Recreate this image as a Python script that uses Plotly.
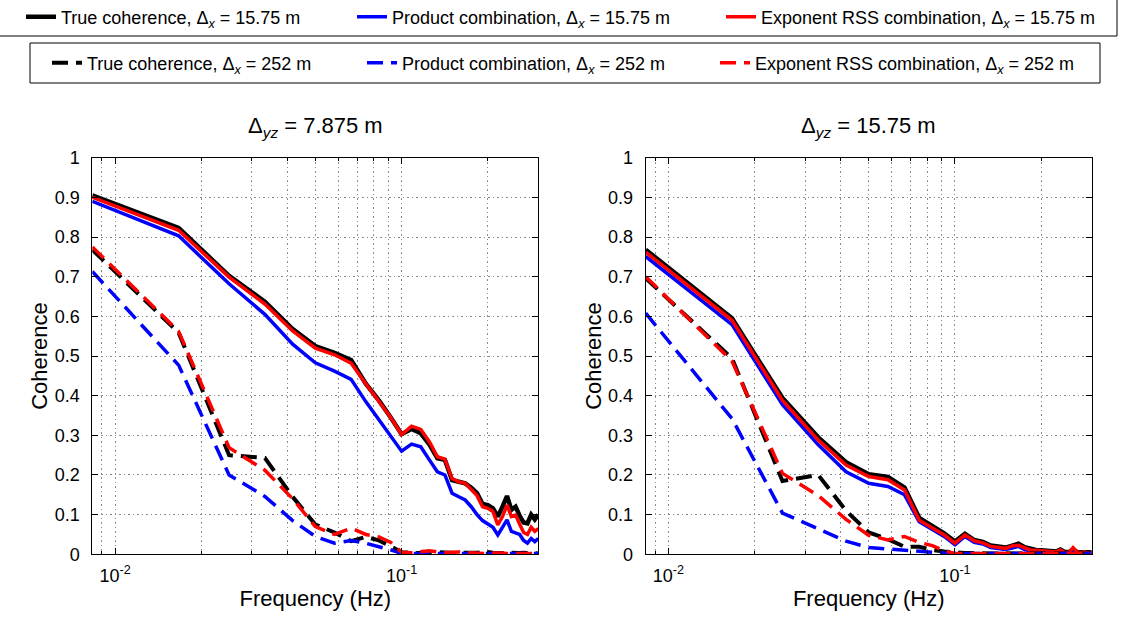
import math
import plotly.graph_objects as go

# ---------------- data ----------------
freq = [0.00833, 0.01667, 0.025, 0.03333, 0.04167, 0.05, 0.05833, 0.06667, 0.075,
        0.08333, 0.09167, 0.1, 0.10833, 0.11667, 0.125, 0.13333, 0.14167, 0.15,
        0.15833, 0.16667, 0.175, 0.18333, 0.19167, 0.2, 0.20833, 0.21667, 0.225,
        0.23333, 0.24167, 0.25, 0.25833, 0.26667, 0.275, 0.28333, 0.29167, 0.3]

# Panel A: Delta_yz = 7.875 m
true_short_A = [0.905, 0.823, 0.702, 0.637, 0.568, 0.525, 0.508, 0.490, 0.430, 0.388, 0.345, 0.303,
                0.316, 0.305, 0.277, 0.242, 0.238, 0.187, 0.183, 0.179, 0.168, 0.154, 0.127, 0.124,
                0.116, 0.095, 0.120, 0.147, 0.112, 0.120, 0.097, 0.080, 0.078, 0.100, 0.088, 0.100]
prod_short_A = [0.890, 0.803, 0.682, 0.605, 0.530, 0.483, 0.462, 0.441, 0.385, 0.340, 0.300, 0.260,
                0.278, 0.271, 0.238, 0.208, 0.200, 0.154, 0.145, 0.137, 0.120, 0.100, 0.085, 0.076,
                0.068, 0.049, 0.070, 0.087, 0.058, 0.055, 0.050, 0.035, 0.028, 0.040, 0.032, 0.040]
rss_short_A = [0.900, 0.817, 0.699, 0.631, 0.563, 0.520, 0.503, 0.482, 0.430, 0.385, 0.345, 0.302,
               0.323, 0.315, 0.284, 0.246, 0.240, 0.191, 0.183, 0.179, 0.162, 0.148, 0.120, 0.116,
               0.108, 0.074, 0.095, 0.124, 0.095, 0.099, 0.076, 0.055, 0.050, 0.068, 0.058, 0.065]
true_long_A = [0.768, 0.559, 0.250, 0.243, 0.145, 0.075, 0.055, 0.033, 0.044, 0.035, 0.020, 0.005,
               0.004, 0.003, 0.006, 0.005, 0.004, 0.003, 0.003, 0.004, 0.003, 0.004, 0.005, 0.006,
               0.004, 0.003, 0.004, 0.003, 0.004, 0.003, 0.003, 0.004, 0.003, 0.002, 0.003, 0.002]
prod_long_A = [0.713, 0.477, 0.200, 0.146, 0.085, 0.045, 0.028, 0.035, 0.028, 0.020, 0.011, 0.002,
               0.002, 0.003, 0.004, 0.003, 0.002, 0.003, 0.003, 0.002, 0.003, 0.002, 0.003, 0.003,
               0.002, 0.003, 0.002, 0.003, 0.002, 0.002, 0.003, 0.002, 0.002, 0.003, 0.002, 0.002]
rss_long_A = [0.775, 0.562, 0.269, 0.212, 0.140, 0.070, 0.050, 0.066, 0.050, 0.044, 0.030, 0.005,
              0.004, 0.006, 0.009, 0.006, 0.004, 0.005, 0.006, 0.004, 0.003, 0.004, 0.003, 0.002,
              0.003, 0.004, 0.003, 0.002, 0.003, 0.002, 0.002, 0.003, 0.002, 0.002, 0.002, 0.002]

# Panel B: Delta_yz = 15.75 m
true_short_B = [0.768, 0.595, 0.394, 0.295, 0.232, 0.202, 0.195, 0.168, 0.092, 0.072, 0.053, 0.032,
                0.052, 0.036, 0.031, 0.022, 0.020, 0.017, 0.022, 0.027, 0.018, 0.013, 0.011, 0.010,
                0.009, 0.008, 0.007, 0.012, 0.006, 0.006, 0.012, 0.006, 0.005, 0.006, 0.004, 0.005]
prod_short_B = [0.751, 0.579, 0.377, 0.276, 0.208, 0.179, 0.171, 0.150, 0.082, 0.063, 0.045, 0.024,
                0.045, 0.030, 0.026, 0.017, 0.015, 0.012, 0.016, 0.020, 0.012, 0.008, 0.007, 0.006,
                0.005, 0.005, 0.004, 0.006, 0.003, 0.003, 0.004, 0.003, 0.003, 0.003, 0.002, 0.003]
rss_short_B = [0.762, 0.590, 0.388, 0.288, 0.225, 0.196, 0.188, 0.162, 0.086, 0.067, 0.049, 0.028,
               0.049, 0.034, 0.029, 0.020, 0.018, 0.015, 0.021, 0.023, 0.016, 0.011, 0.010, 0.009,
               0.008, 0.007, 0.006, 0.011, 0.004, 0.005, 0.017, 0.006, 0.004, 0.006, 0.003, 0.004]
true_long_B = [0.696, 0.494, 0.185, 0.200, 0.110, 0.055, 0.038, 0.019, 0.019, 0.011, 0.007, 0.004,
               0.003, 0.003, 0.002, 0.003, 0.002, 0.003, 0.002, 0.002, 0.003, 0.002, 0.002, 0.002,
               0.003, 0.002, 0.002, 0.002, 0.002, 0.003, 0.002, 0.002, 0.002, 0.002, 0.002, 0.002]
prod_long_B = [0.608, 0.342, 0.104, 0.064, 0.033, 0.017, 0.013, 0.011, 0.008, 0.004, 0.003, 0.002,
               0.002, 0.002, 0.002, 0.002, 0.002, 0.002, 0.002, 0.002, 0.002, 0.002, 0.002, 0.002,
               0.002, 0.002, 0.002, 0.002, 0.002, 0.002, 0.002, 0.002, 0.002, 0.002, 0.002, 0.002]
rss_long_B = [0.700, 0.487, 0.204, 0.148, 0.088, 0.048, 0.036, 0.045, 0.030, 0.022, 0.009, 0.002,
              0.002, 0.002, 0.002, 0.002, 0.002, 0.002, 0.002, 0.002, 0.002, 0.002, 0.002, 0.002,
              0.002, 0.002, 0.002, 0.002, 0.002, 0.002, 0.002, 0.002, 0.002, 0.002, 0.002, 0.002]

panel_titles = ["Δ<sub><i>yz</i></sub> = 7.875 m", "Δ<sub><i>yz</i></sub> = 15.75 m"]
series_names = [
    "True coherence, Δ<sub><i>x</i></sub> = 15.75 m",
    "Product combination, Δ<sub><i>x</i></sub> = 15.75 m",
    "Exponent RSS combination, Δ<sub><i>x</i></sub> = 15.75 m",
    "True coherence, Δ<sub><i>x</i></sub> = 252 m",
    "Product combination, Δ<sub><i>x</i></sub> = 252 m",
    "Exponent RSS combination, Δ<sub><i>x</i></sub> = 252 m",
]
major_ticks = [0.01, 0.1]
major_text = ["10<sup>-2</sup>", "10<sup>-1</sup>"]
minor_ticks = [0.009, 0.02, 0.03, 0.04, 0.05, 0.06, 0.07, 0.08, 0.09, 0.2, 0.3]

# ---------------- figure ----------------
W, H = 1122, 617
FONT = "Liberation Sans, Arial, Helvetica, sans-serif"

DASH = "16px,8px"
styles = [
    dict(color="#000000", width=4.5, dash="solid"),
    dict(color="#0000ff", width=3.5, dash="solid"),
    dict(color="#ff0000", width=3.5, dash="solid"),
    dict(color="#000000", width=4.0, dash=DASH),
    dict(color="#0000ff", width=3.5, dash=DASH),
    dict(color="#ff0000", width=3.5, dash=DASH),
]
panels = [
    [true_short_A, prod_short_A, rss_short_A, true_long_A, prod_long_A, rss_long_A],
    [true_short_B, prod_short_B, rss_short_B, true_long_B, prod_long_B, rss_long_B],
]
legend_ids = ["legend", "legend2", "legend3", "legend4", "legend5", "legend6"]

fig = go.Figure()
for p, series in enumerate(panels):
    xa = "x" if p == 0 else "x2"
    ya = "y" if p == 0 else "y2"
    for i, vals in enumerate(series):
        fig.add_trace(go.Scatter(
            x=freq, y=vals, mode="lines", name=series_names[i],
            line=styles[i], xaxis=xa, yaxis=ya,
            showlegend=(p == 0), legend=legend_ids[i],
        ))

def px_x(v):
    return v / W

def px_y(v):
    return 1 - v / H

dom_y = [px_y(554.3), px_y(157.7)]
dom_x1 = [px_x(92.3), px_x(538.3)]
dom_x2 = [px_x(645.7), px_x(1091.7)]

grid_common = dict(gridcolor="#8c8c8c", griddash="1.5px,3px", gridwidth=1)
xcommon = dict(
    type="log", range=[math.log10(freq[0]), math.log10(freq[-1])],
    tickvals=major_ticks, ticktext=major_text, ticks="inside", ticklen=6,
    tickcolor="black", showline=True, linecolor="black", linewidth=1, mirror="allticks",
    showgrid=True, zeroline=False, ticklabelstandoff=5,
    minor=dict(tickvals=minor_ticks, ticks="inside", ticklen=3, tickcolor="black",
               showgrid=True, **grid_common),
    tickfont=dict(size=18, color="black", family=FONT),
    title=dict(text="Frequency (Hz)", font=dict(size=22, color="black", family=FONT), standoff=0),
    **grid_common,
)
ycommon = dict(
    range=[0, 1], dtick=0.1, tick0=0, ticks="inside", ticklen=6, tickcolor="black",
    showline=True, linecolor="black", linewidth=1, mirror="allticks",
    showgrid=True, zeroline=False, ticklabelstandoff=8,
    tickfont=dict(size=18, color="black", family=FONT),
    title=dict(text="Coherence", font=dict(size=22, color="black", family=FONT), standoff=0),
    **grid_common,
)

legend_pos = [(21, 17), (352, 17), (721, 17), (47, 63), (362, 63), (715, 63)]
legends = {}
for lid, (lx, ly) in zip(legend_ids, legend_pos):
    legends[lid] = dict(
        x=px_x(lx), y=px_y(ly), xanchor="left", yanchor="middle",
        xref="paper", yref="paper", bgcolor="rgba(0,0,0,0)", borderwidth=0,
        font=dict(size=18, color="black", family=FONT),
    )

fig.update_layout(
    width=W, height=H,
    margin=dict(l=0, r=0, t=0, b=0, autoexpand=False),
    paper_bgcolor="white", plot_bgcolor="white",
    font=dict(family=FONT, color="black"),
    xaxis=dict(domain=dom_x1, anchor="y", **xcommon),
    yaxis=dict(domain=dom_y, anchor="x", **ycommon),
    xaxis2=dict(domain=dom_x2, anchor="y2", **xcommon),
    yaxis2=dict(domain=dom_y, anchor="x2", **ycommon),
    shapes=[
        dict(type="rect", xref="paper", yref="paper", x0=px_x(-2), x1=px_x(1117),
             y0=px_y(36), y1=px_y(-2), line=dict(color="black", width=1)),
        dict(type="rect", xref="paper", yref="paper", x0=px_x(30), x1=px_x(1100),
             y0=px_y(83), y1=px_y(43), line=dict(color="black", width=1)),
    ],
    annotations=[
        dict(text=panel_titles[0], x=(dom_x1[0] + dom_x1[1]) / 2, y=px_y(127),
             xref="paper", yref="paper", showarrow=False, xanchor="center", yanchor="middle",
             font=dict(size=22, color="black", family=FONT)),
        dict(text=panel_titles[1], x=(dom_x2[0] + dom_x2[1]) / 2, y=px_y(127),
             xref="paper", yref="paper", showarrow=False, xanchor="center", yanchor="middle",
             font=dict(size=22, color="black", family=FONT)),
    ],
    **legends,
)

fig.write_html("out.html")
